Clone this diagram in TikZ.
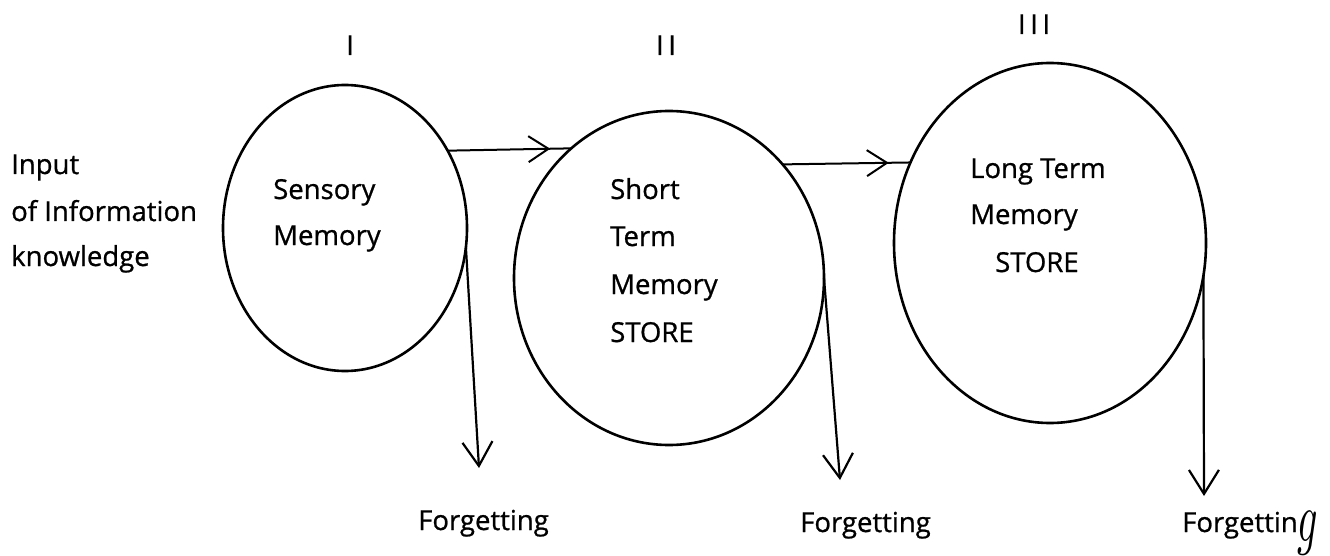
\documentclass[tikz,border=0pt]{standalone}
\usepackage{fontspec}
\usepackage{graphicx}
\setmainfont{Open Sans}[FakeBold=0.8]
\usetikzlibrary{arrows.meta,decorations.markings,shapes.geometric}
\begin{document}
\begin{tikzpicture}[x=1pt,y=-1pt,
  mem/.style={ellipse,draw,line width=2.6pt,inner sep=0pt,outer sep=0pt},
  lbl/.style={anchor=base west,inner sep=0pt,font=\fontsize{27.5}{32}\selectfont},
  num/.style={anchor=base,inner sep=0pt,font=\fontsize{27.5}{32}\selectfont},
  flow/.style={line width=2pt,postaction={decorate},
    decoration={markings,mark=at position 0.83 with {\arrow{Straight Barb[length=20pt,width=26pt,line width=2pt]}}}},
  forget/.style={line width=2.2pt,-{Straight Barb[length=24pt,width=30pt]}}
]
\useasboundingbox (0,0) rectangle (1330,556);
\fill[white] (0,0) rectangle (1330,556);
% ellipses
\node[mem,minimum width=244pt,minimum height=286pt] (e1) at (345,228) {};
\node[mem,minimum width=310pt,minimum height=334pt] (e2) at (669,278) {};
\node[mem,minimum width=312pt,minimum height=360pt] (e3) at (1050,243) {};
% stage numerals
\node[num] (n1) at (350,55) {I};
\node[num] (n2) at (666,55) {I\,I};
\node[num] (n3) at (1034,34) {I\,I\,I};
% input text
\node[lbl] (in1) at (11,174) {Input};
\node[lbl] (in2) at (11,221) {of Information};
\node[lbl] (in3) at (11,266) {knowledge};
% sensory
\node[lbl] (s1) at (273,199) {Sensory};
\node[lbl] (s2) at (273,245) {Memory};
% short term
\node[lbl] (t1) at (610,199) {Short};
\node[lbl] (t2) at (610,246) {Term};
\node[lbl] (t3) at (610,294) {Memory};
\node[lbl] (t4) at (610,342) {STORE};
% long term
\node[lbl] (l1) at (970,178) {Long Term};
\node[lbl] (l2) at (970,224) {Memory};
\node[lbl] (l3) at (995,272) {STORE};
% forgetting labels
\node[lbl] (f3) at (1182,532) {Forgettin};
\node[lbl] (f1) at (418,530) {Forgetting};
\node[lbl] (f2) at (800,532) {Forgetting};
\node[anchor=base west,inner sep=0pt] (f3g) at (1297,541) {\scalebox{4}[7]{$g$}};
% arrow tips
\coordinate (d1) at (479,468);
\coordinate (d2) at (840,480);
\coordinate (d3) at (1204,496);
% flows
\draw[flow] (e1.37.3) -- (e2.127.9);
\draw[flow] (e2.45.65) -- (e3.150.2);
\draw[forget] (e1.-9.87) -- (d1);
\draw[forget] (e2.0) -- (d2);
\draw[forget] (e3.-12.9) -- (d3);
\end{tikzpicture}
\end{document}
